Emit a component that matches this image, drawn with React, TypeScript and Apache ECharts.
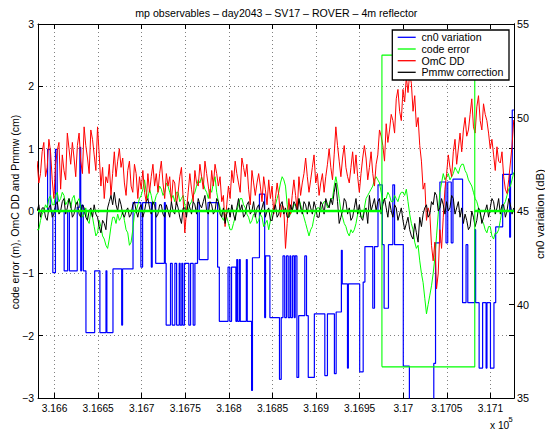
import React, { useEffect, useRef } from "react";
import * as echarts from "echarts";

// ---------- axes ----------
const X_MIN = 316581;
const X_MAX = 317127;
const X_TICKS = [316600, 316650, 316700, 316750, 316800, 316850, 316900, 316950, 317000, 317050, 317100];
const LEFT_MIN = -3;
const LEFT_MAX = 3;
const RIGHT_MIN = 35;
const RIGHT_MAX = 55;

// ---------- sampled series (left axis) ----------
// main samples at SAMPLE_START + i*SAMPLE_STEP, "Mid" samples half a step later
const SAMPLE_START = 316580;
const SAMPLE_STEP = 3.85;

const omcDD = [
  0.8, 0.6, 1.1, 0.7, 0.95, 0.2, 0.97, 0.35, 0.65, 1.25,
  0.75, 0.85, 1.05, 0.8, 1.35, 0.85, 1.3, 0.9, 1.35, 0.4,
  0.2, 0.45, 0.25, 0.95, 0.8, 0.7, 0.45, 0.65, 0.4, 0.75,
  0.2, 0.35, 0.3, 0.6, 0.55, 0.4,
  0.3, 0.8, 0.2, 0.4, 0.15, 0.45, 0.3, 0.7, -0.35, 0.3,
  0.35, 0.65, 0.4, 0.55, 0.8, 0.4, 0.65, 0.75, 0.4, 0.15,
  -0.25, 0.4, 0.65, 0.8, 0.45, 0.85, 0.55, 0.35, 0.65, 0.25,
  0.6, 0.15, 0.35, 0.5,
  0.4, 0.2, 0.25, 0.1, -0.6, 0.2, 0.25, 0.25, 0.55, 0.45,
  0.85, 0.3, 0.7, 0.45, 0.25, 0.6, 0.55, 1.0, 0.5, 1.35,
  0.8, 0.85, 0.7, 0.45, 0.95, 0.9, 0.3, 0.85, 0.85, 0.7,
  0.6, 0.75, 1.3, 1.05,
  1.4, 1.3, 1.45, 1.8, 1.6, 1.95, 2.15, 2.2, 1.6, 1.35,
  1.05, 0.35, -0.15, -0.05, -0.8, -1.25, -0.3, -0.1, 0.6, 0.7,
  0.95, 0.75, 1.25, 1.3, 1.2, 1.55, 1.35, 1.67, 1.45, 1.72,
  1.45, 1.0, 0.9,
  1.03, 0.77, 0.55, 0.28, 0.77, 1.46,
];
const omcDDMid = [
  0.45, 0.95, 0.55, 1.15, 0.5, 0.75, 1.1, 0.9, 0.5, 1.0,
  1.1, 0.55, 1.25, 0.6, 1.05, 0.6, 1.15, 0.65, 0.9, 0.7,
  0.55, 0.75, 0.6, 0.55, 1.0, 0.85, 0.25, 0.8, 0.3, 0.6,
  0.55, 0.65, 0.15, 0.3, 0.75, 0.6,
  0.6, 0.45, 0.6, 0.55, 0.5, 0.1, 0.55, 0.2, 0.0, 0.6,
  0.15, 0.45, 0.75, 0.35, 0.6, 0.2, 0.4, 0.6, 0.55, 0.25,
  0.1, 0.2, 0.45, 0.6, 0.3, 0.7, 0.75, 0.1, 0.45, 0.45,
  0.4, 0.55, 0.1, 0.2,
  -0.05, 0.45, -0.1, 0.05, -0.2, -0.05, 0.5, 0.0, 0.25, 0.6,
  0.55, 0.5, 0.9, 0.6, 0.45, 0.3, 0.75, 0.7, 0.9, 1.05,
  0.55, 1.05, 0.55, 0.7, 0.6, 0.55, 0.6, 1.05, 0.5, 0.95,
  0.4, 0.9, 1.2, 0.8,
  1.1, 1.55, 1.25, 1.95, 1.45, 1.75, 1.9, 2.05, 1.85, 1.5,
  0.8, 0.45, 0.05, -0.55, -0.5, -1.0, -0.6, 0.35, 0.9, 0.55,
  1.15, 1.0, 0.95, 1.5, 1.3, 1.8, 1.25, 1.85, 1.3, 1.55,
  1.25, 1.15, 0.65,
  0.8, 0.95, 0.35, 0.5, 1.05,
];

const codeError = [
  -0.3, -0.15, 0.0, 0.05, 0.25, 0.1, 0.3, 0.2, 0.25, 0.15,
  0.05, 0.25, 0.15, 0.05, -0.05, -0.15, 0.0, -0.25, -0.35, -0.25,
  -0.45, -0.6, -0.25, -0.1, -0.05, -0.1, -0.15, -0.35, -0.5, -0.05,
  0.1, 0.25, 0.5, 0.2, 0.25, 0.15,
  0.3, 0.35, 0.3, 0.4, 0.2, 0.15, 0.3, 0.2, 0.1, 0.0,
  0.15, 0.3, 0.5, 0.55, 0.35, 0.2, 0.3, 0.55, 0.15, -0.1,
  -0.05, -0.2, -0.3, -0.1, 0.1, 0.2, 0.05, -0.1, -0.15, -0.05,
  -0.15, -0.1, -0.2, -0.3,
  0.0, 0.1, 0.3, 0.55, 0.4, -0.1, 0.0, 0.1, 0.2, 0.0,
  -0.2, -0.4, -0.25, 0.0, 0.05, 0.1, 0.15, 0.1, 0.2, 0.55,
  0.2, -0.1, -0.25, -0.4, -0.35, -0.2, 0.0, -0.1, 0.2, 0.3,
  0.4, 0.55, 0.45, 0.15,
  0.2, 0.25, 0.15, 0.2, 0.25, 0.3, 0.35, -0.05, -0.3, -0.6,
  -0.8, -1.15, -1.65, -1.35, -1.0, -0.4, 0.3, 0.6, 0.55, 0.5,
  0.6, 0.65, 0.7, 0.75, 0.6, 0.45, 0.3, 0.15, -0.05, -0.2,
  -0.35, -0.25, -0.45,
  -0.36, -0.15, 0.1, 0.25, 0.4, 0.62,
];
const codeErrorMid = [
  -0.3, -0.05, 0.1, 0.2, 0.1, 0.25, 0.15, 0.3, 0.1, 0.2,
  0.2, 0.1, 0.2, -0.1, 0.05, -0.2, -0.1, -0.4, -0.15, -0.4,
  -0.55, -0.45, -0.1, -0.2, -0.15, 0.0, -0.3, -0.55, -0.3, 0.0,
  0.2, 0.35, 0.3, 0.35, 0.1, 0.25,
  0.4, 0.25, 0.45, 0.3, 0.25, 0.3, 0.15, 0.25, 0.0, 0.1,
  0.25, 0.4, 0.45, 0.45, 0.3, 0.35, 0.45, 0.3, 0.05, -0.15,
  -0.1, -0.3, -0.2, 0.0, 0.2, 0.1, -0.05, -0.2, -0.05, -0.2,
  -0.05, -0.25, -0.15, -0.15,
  0.05, 0.2, 0.45, 0.5, 0.1, -0.05, 0.1, 0.05, 0.1, -0.1,
  -0.3, -0.3, -0.1, 0.05, 0.0, 0.15, 0.05, 0.2, 0.4, 0.4,
  0.0, -0.2, -0.35, -0.3, -0.3, -0.05, -0.1, 0.05, 0.25, 0.35,
  0.5, 0.5, 0.3, 0.2,
  0.3, 0.15, 0.25, 0.15, 0.3, 0.25, 0.15, -0.2, -0.5, -0.55,
  -1.0, -1.4, -1.5, -1.2, -0.75, -0.05, 0.45, 0.5, 0.6, 0.55,
  0.7, 0.6, 0.75, 0.65, 0.5, 0.4, 0.2, 0.05, -0.15, -0.3,
  -0.25, -0.4, -0.35,
  -0.3, 0.0, 0.15, 0.35, 0.5,
];

const pmmwCorrection = [
  0.0, -0.1, 0.05, -0.15, 0.1, -0.05, 0.15, 0.0, 0.2, 0.05,
  0.1, -0.05, 0.15, -0.1, 0.05, -0.15, 0.05, 0.1, -0.1, -0.35,
  -0.2, 0.05, 0.25, 0.3, 0.0, 0.1, -0.1, 0.05, -0.05, 0.15,
  -0.1, 0.1, 0.0, 0.2, -0.05, 0.1,
  -0.05, 0.1, -0.1, 0.0, 0.15, -0.05, 0.05, -0.2, 0.05, 0.15,
  -0.05, 0.1, 0.2, 0.05, 0.25, -0.05, 0.1, 0.0, 0.15, -0.1,
  -0.2, 0.05, 0.1, -0.15, 0.2, 0.1, -0.05, 0.15, 0.0, -0.1,
  0.1, 0.05, -0.1, 0.05,
  -0.15, 0.1, -0.05, 0.15, 0.05, -0.1, 0.0, 0.1, 0.2, -0.05,
  0.1, 0.15, -0.05, 0.05, -0.1, 0.1, 0.2, 0.05, 0.1, 0.45,
  -0.2, 0.0, 0.15, 0.05, -0.1, 0.2, 0.1, -0.15, 0.05, 0.25,
  0.1, 0.0, 0.2, 0.1,
  0.05, 0.15, -0.1, 0.05, -0.05, -0.15, -0.2, -0.3, -0.45, -0.35,
  -0.1, -0.05, 0.1, -0.05, 0.1, 0.25, 0.05, 0.1, 0.15, 0.05,
  0.2, 0.05, -0.1, -0.2, -0.15, -0.25, -0.1, -0.15, 0.0, -0.1,
  0.1, 0.05, 0.15,
  0.05, -0.05, 0.1, 0.0, 0.1, 0.05,
];
const pmmwCorrectionMid = [
  0.1, 0.05, -0.1, 0.05, -0.1, 0.1, -0.05, 0.15, -0.05, 0.2,
  -0.1, 0.1, -0.05, 0.1, -0.1, 0.0, -0.1, -0.05, -0.25, -0.15,
  -0.3, 0.15, 0.1, 0.1, 0.2, -0.05, 0.0, -0.1, 0.1, 0.0,
  0.05, -0.1, 0.15, 0.05, 0.15, -0.1,
  0.1, -0.05, 0.1, -0.1, 0.0, 0.15, -0.1, 0.05, -0.1, 0.05,
  0.15, -0.05, 0.1, 0.15, 0.0, 0.15, -0.05, 0.2, -0.05, 0.05,
  -0.05, -0.1, -0.05, 0.05, 0.0, -0.1, 0.1, -0.05, 0.15, 0.05,
  -0.05, 0.15, 0.0, -0.15,
  0.0, -0.1, 0.1, -0.05, -0.1, 0.1, 0.15, -0.05, 0.05, 0.15,
  -0.05, 0.05, 0.15, -0.1, 0.15, -0.05, 0.1, 0.2, 0.3, 0.15,
  -0.1, 0.2, -0.05, -0.15, 0.05, -0.05, -0.1, 0.0, -0.2, 0.0,
  0.2, 0.15, -0.05, 0.2,
  -0.1, 0.0, 0.1, -0.15, 0.05, -0.3, -0.1, -0.4, -0.2, -0.5,
  -0.25, 0.05, -0.1, 0.15, 0.3, 0.0, 0.2, -0.05, 0.0, 0.25,
  -0.05, 0.15, 0.05, -0.05, -0.3, 0.0, -0.25, 0.05, -0.2, 0.0,
  -0.1, 0.2, -0.05,
  0.2, 0.1, -0.1, 0.2, -0.05,
];

// ---------- cn0 variation (right axis, dB): [start time, level] ----------
const cn0Steps: [number, number][] = [
  [316581, 45.0], [316592, 48.3], [316595, 45.0], [316598, 41.7], [316601, 48.3],
  [316603, 45.0], [316611, 41.8], [316615, 45.0], [316617, 41.8], [316626, 45.2],
  [316629, 48.4], [316630, 41.8], [316631, 45.3], [316633, 41.8], [316636, 38.5],
  [316646, 41.8], [316652, 38.5], [316659, 41.8], [316660, 38.5], [316667, 41.9],
  [316677, 38.9], [316678, 41.9], [316690, 45.45], [316699, 42.0], [316701, 45.45],
  [316711, 42.0], [316712, 45.45], [316716, 42.2], [316726, 45.45], [316727, 42.2],
  [316728, 38.9], [316733, 42.2], [316735, 38.9], [316738, 42.2], [316740, 38.9],
  [316743, 42.2], [316744, 38.9], [316746, 42.2], [316747, 38.9], [316749, 42.2],
  [316754, 38.9], [316756, 42.2], [316759, 38.9], [316761, 42.2], [316764, 45.45],
  [316766, 42.4], [316776, 45.45], [316787, 42.0], [316789, 39.1], [316799, 42.0],
  [316801, 39.1], [316803, 42.0], [316808, 39.1], [316809, 42.4], [316810, 39.1],
  [316812, 42.4], [316813, 39.1], [316820, 42.4], [316821, 39.1], [316826, 35.4],
  [316827, 42.5], [316835, 45.9], [316841, 39.3], [316842, 42.6], [316847, 39.3],
  [316858, 36.0], [316860, 39.3], [316862, 42.6], [316864, 39.3], [316866, 42.6],
  [316868, 39.3], [316870, 42.6], [316871, 39.3], [316873, 42.6], [316875, 39.3],
  [316876, 42.6], [316878, 36.1], [316880, 39.4], [316887, 42.6], [316889, 39.4],
  [316891, 36.1], [316898, 39.5], [316910, 36.2], [316913, 39.5], [316921, 36.3],
  [316923, 39.6], [316929, 42.9], [316930, 41.1], [316936, 36.6], [316937, 41.1],
  [316950, 36.4], [316954, 41.2], [316956, 43.1], [316965, 39.8], [316967, 43.1],
  [316971, 46.4], [316976, 43.2], [316978, 39.8], [316983, 43.2], [316988, 46.4],
  [316990, 43.2], [317000, 36.7], [317007, 33.0], [317035, 36.85], [317037, 43.3],
  [317042, 46.55], [317049, 43.3], [317051, 46.55], [317055, 43.3], [317057, 46.7],
  [317068, 40.1], [317072, 43.2], [317074, 40.1], [317082, 44.0], [317083, 40.1],
  [317087, 36.6], [317091, 40.1], [317095, 36.6], [317096, 40.1], [317100, 36.6],
  [317104, 40.1], [317106, 44.15], [317114, 46.96], [317122, 43.6], [317123, 46.96],
  [317125, 50.4], [317127, 50.4],
];

// ---------- code error flag (thick zero line and the outlier box) ----------
const FLAG_START = 316975.5;
const FLAG_END = 317082;
const FLAG_HIGH = 2.5;
const FLAG_LOW = -2.5;

const LEGEND_NAMES = ["cn0 variation", "code error", "OmC DD", "Pmmw correction"];
const COLORS = ["#0000ff", "#00ff00", "#ff0000", "#000000"];

const FONT = "'Liberation Sans', Arial, Helvetica, sans-serif";

function sampled(values: number[], mids: number[]): [number, number][] {
  const out: [number, number][] = [];
  values.forEach((v, i) => {
    const t = SAMPLE_START + i * SAMPLE_STEP;
    out.push([t, v]);
    if (i < mids.length) out.push([t + SAMPLE_STEP / 2, mids[i]]);
  });
  return out;
}

function fmtX(v: number): string {
  return (v / 1e5).toFixed(4).replace(/0+$/, "").replace(/\.$/, "");
}

function fmtY(v: number): string {
  return v < 0 ? "\u2212" + Math.abs(v) : String(v);
}

export default function App() {
  const ref = useRef<HTMLDivElement>(null);

  useEffect(() => {
    if (!ref.current) return;
    const chart = echarts.init(ref.current, undefined, { renderer: "svg" });

    const axisLine = { show: true, onZero: false, lineStyle: { color: "#000", width: 1 } };
    const grid = { show: true, lineStyle: { color: "#808080", width: 1, type: [1, 3] } };

    const legendRows = [37.3, 49, 60.7, 72.3];

    const lineSeries = (name: string, data: any, color: string, width: number, yAxisIndex = 0, extra: any = {}) => ({
      name,
      type: "line",
      yAxisIndex,
      data,
      showSymbol: false,
      symbol: "none",
      clip: true,
      lineStyle: { color, width },
      ...extra,
    });

    const option: any = {
      animation: false,
      backgroundColor: "#ffffff",
      grid: { left: 38, right: 31, top: 24, bottom: 34, containLabel: false },
      xAxis: [
        {
          type: "value",
          min: X_MIN,
          max: X_MAX,
          position: "bottom",
          axisLine,
          axisTick: { show: true, inside: true, length: 5, customValues: X_TICKS, lineStyle: { color: "#000" } },
          axisLabel: {
            customValues: X_TICKS,
            formatter: fmtX,
            color: "#000",
            fontSize: 10.2,
            fontFamily: FONT,
            margin: 5,
          },
          splitLine: grid,
        },
        {
          type: "value",
          min: X_MIN,
          max: X_MAX,
          position: "top",
          axisLine,
          axisTick: { show: true, inside: true, length: 5, customValues: X_TICKS, lineStyle: { color: "#000" } },
          axisLabel: { show: false },
          splitLine: { show: false },
        },
      ],
      yAxis: [
        {
          type: "value",
          min: LEFT_MIN,
          max: LEFT_MAX,
          interval: 1,
          position: "left",
          axisLine,
          axisTick: { show: true, inside: true, length: 5, lineStyle: { color: "#000" } },
          axisLabel: { formatter: fmtY, color: "#000", fontSize: 10.5, fontFamily: FONT, margin: 4 },
          splitLine: grid,
        },
        {
          type: "value",
          min: RIGHT_MIN,
          max: RIGHT_MAX,
          interval: 5,
          position: "right",
          axisLine,
          axisTick: { show: true, inside: true, length: 5, lineStyle: { color: "#000" } },
          axisLabel: { color: "#000", fontSize: 10.8, fontFamily: FONT, margin: 3 },
          splitLine: { show: false },
        },
        {
          type: "value",
          min: LEFT_MIN,
          max: LEFT_MAX,
          interval: 1,
          position: "right",
          axisLine,
          axisTick: { show: true, inside: true, length: 5, lineStyle: { color: "#000" } },
          axisLabel: { show: false },
          splitLine: { show: false },
        },
      ],
      series: [
        lineSeries(LEGEND_NAMES[0], cn0Steps, COLORS[0], 1.2, 1, { step: "end" }),
        lineSeries(LEGEND_NAMES[1], sampled(codeError, codeErrorMid), COLORS[1], 1),
        lineSeries(LEGEND_NAMES[2], sampled(omcDD, omcDDMid), COLORS[2], 1),
        lineSeries(LEGEND_NAMES[3], sampled(pmmwCorrection, pmmwCorrectionMid), COLORS[3], 1),
        lineSeries("flag-zero-a", [[X_MIN, 0], [FLAG_START, 0]], COLORS[1], 2.6),
        lineSeries("flag-zero-b", [[FLAG_END, 0], [X_MAX, 0]], COLORS[1], 2.6),
        lineSeries(
          "flag-box",
          [
            [FLAG_START, FLAG_LOW],
            [FLAG_START, FLAG_HIGH],
            [FLAG_END, FLAG_HIGH],
            [FLAG_END, FLAG_LOW],
            [FLAG_START, FLAG_LOW],
          ],
          COLORS[1],
          1.1
        ),
      ],
      graphic: [
        {
          type: "text",
          x: 276.3,
          y: 12.7,
          style: {
            text: "mp observables \u2013 day2043 \u2013 SV17 \u2013 ROVER \u2013 4m reflector",
            font: `10.6px ${FONT}`,
            fill: "#000",
            align: "center",
            verticalAlign: "middle",
          },
        },
        {
          type: "text",
          x: 15,
          y: 212,
          rotation: Math.PI / 2,
          style: {
            text: "code error (m), OmC DD and Pmmw (cm)",
            font: `10.5px ${FONT}`,
            fill: "#000",
            align: "center",
            verticalAlign: "middle",
          },
        },
        {
          type: "text",
          x: 539.5,
          y: 214,
          rotation: Math.PI / 2,
          style: {
            text: "cn0 variation (dB)",
            font: `11.5px ${FONT}`,
            fill: "#000",
            align: "center",
            verticalAlign: "middle",
          },
        },
        {
          type: "text",
          x: 490,
          y: 425,
          style: { text: "x 10", font: `10.2px ${FONT}`, fill: "#000", align: "left", verticalAlign: "middle" },
        },
        {
          type: "text",
          x: 508.5,
          y: 419,
          style: { text: "5", font: `7.5px ${FONT}`, fill: "#000", align: "left", verticalAlign: "middle" },
        },
        {
          type: "group",
          children: [
            {
              type: "rect",
              shape: { x: 392.3, y: 30, width: 116.7, height: 50 },
              style: { fill: "#fff", stroke: "#000", lineWidth: 1.3 },
              z: 100,
            },
            ...LEGEND_NAMES.flatMap((name, k) => [
              {
                type: "line",
                shape: { x1: 397.7, y1: legendRows[k], x2: 415.7, y2: legendRows[k] },
                style: { stroke: COLORS[k], lineWidth: 1.3 },
                z: 101,
              },
              {
                type: "text",
                x: 421.5,
                y: legendRows[k],
                style: { text: name, font: `10.6px ${FONT}`, fill: "#000", align: "left", verticalAlign: "middle" },
                z: 101,
              },
            ]),
          ],
        },
      ],
    };

    chart.setOption(option);
    return () => chart.dispose();
  }, []);

  return <div ref={ref} style={{ position: "absolute", left: 0, top: 0, width: 545, height: 432 }} />;
}
